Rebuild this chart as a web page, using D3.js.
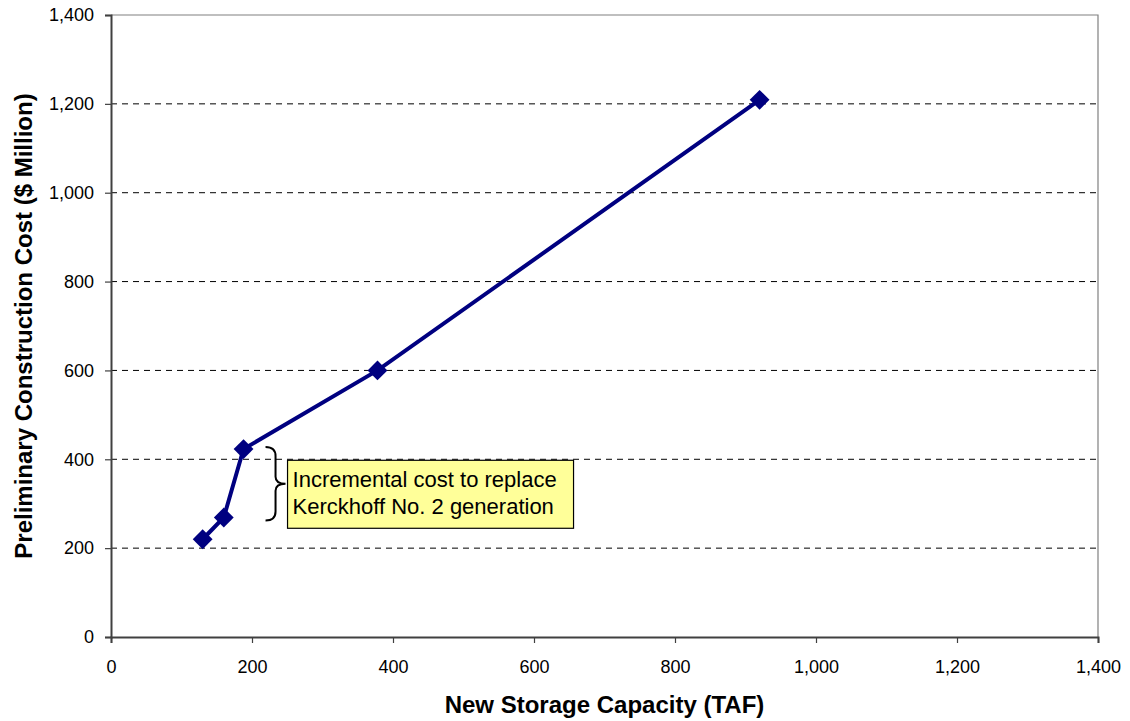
<!DOCTYPE html>
<meta charset="utf-8">
<style>
body { margin: 0; background: #fff; font-family: 'Liberation Sans', Arial, sans-serif; }
.tick text { font-size: 18px; fill: #000; font-family: 'Liberation Sans', Arial, sans-serif; }
.grid line { stroke: #000; stroke-dasharray: 6,5; stroke-width: 1; }
.title { font-size: 24px; font-weight: bold; }
</style>
<body>
<script src="https://d3js.org/d3.v7.min.js"></script>
<script>
var width = 1130,
    height = 721;

var margin = {top: 15, right: 32, bottom: 84, left: 111};

var storage = [130, 160, 188, 378, 920];
var cost = [220, 269, 423, 600, 1209];
var xTicks = [0, 200, 400, 600, 800, 1000, 1200, 1400];
var yTicks = [0, 200, 400, 600, 800, 1000, 1200, 1400];
var noteLines = ["Incremental cost to replace", "Kerckhoff No. 2 generation"];

var data = storage.map((d, i) => ({x: d, y: cost[i]}));

var svg = d3.select("body").append("svg")
    .attr("width", width)
    .attr("height", height);

var x = d3.scaleLinear().domain([0, 1400]).range([margin.left, width - margin.right]);
var y = d3.scaleLinear().domain([0, 1400]).range([height - margin.bottom, margin.top]);

var fmt = d3.format(",");

// gridlines (dashed), skip 0 and top
svg.append("g")
    .attr("class", "grid")
  .selectAll("line")
  .data(yTicks.filter(d => d > 0 && d < 1400))
  .join("line")
    .attr("x1", x(0))
    .attr("x2", x(1400))
    .attr("y1", d => y(d))
    .attr("y2", d => y(d));

// plot border top / right in grey
svg.append("path")
    .attr("d", `M${x(0)},${y(1400)}H${x(1400)}V${y(0)}`)
    .attr("fill", "none")
    .attr("stroke", "#808080")
    .attr("stroke-width", 1.2);

var xAxis = svg.append("g")
    .attr("transform", `translate(0,${y(0)})`)
    .call(d3.axisBottom(x).tickValues(xTicks).tickFormat(fmt).tickSize(6).tickPadding(17));

var yAxis = svg.append("g")
    .attr("transform", `translate(${x(0)},0)`)
    .call(d3.axisLeft(y).tickValues(yTicks).tickFormat(fmt).tickSize(6).tickPadding(11));

[xAxis, yAxis].forEach(g => {
  g.select(".domain").attr("stroke", "#404040").attr("stroke-width", 2);
  g.selectAll(".tick line").attr("stroke", "#404040").attr("stroke-width", 1.2);
});

// axis titles
svg.append("text")
    .attr("class", "title")
    .attr("x", (x(0) + x(1400)) / 2)
    .attr("y", 713)
    .attr("text-anchor", "middle")
    .text("New Storage Capacity (TAF)");

svg.append("text")
    .attr("class", "title")
    .attr("transform", `translate(32,${(y(0) + y(1400)) / 2}) rotate(-90)`)
    .attr("text-anchor", "middle")
    .text("Preliminary Construction Cost ($ Million)");

// series
var line = d3.line().x(d => x(d.x)).y(d => y(d.y));

svg.append("path")
    .datum(data)
    .attr("d", line)
    .attr("fill", "none")
    .attr("stroke", "#000080")
    .attr("stroke-width", 4);

svg.append("g")
  .selectAll("path")
  .data(data)
  .join("path")
    .attr("transform", d => `translate(${x(d.x)},${y(d.y)})`)
    .attr("d", d3.symbol(d3.symbolDiamond2, 250))
    .attr("fill", "#000080");

// brace between the two upper points
var b0 = y(cost[2]) - 2, b1 = y(cost[1]) + 3, bx = x(storage[2]) + 22;
var bm = (b0 + b1) / 2;
svg.append("path")
    .attr("d", `M${bx},${b0} Q${bx + 10},${b0} ${bx + 10},${b0 + 9} V${bm - 7} Q${bx + 10},${bm} ${bx + 20},${bm}` +
               ` Q${bx + 10},${bm} ${bx + 10},${bm + 7} V${b1 - 9} Q${bx + 10},${b1} ${bx},${b1}`)
    .attr("fill", "none")
    .attr("stroke", "#000")
    .attr("stroke-width", 2);

// note box
var box = svg.append("g").attr("transform", `translate(${bx + 22},${y(400) + 1})`);
box.append("rect")
    .attr("width", 286)
    .attr("height", 68)
    .attr("fill", "#FFFF99")
    .attr("stroke", "#000")
    .attr("stroke-width", 1.2);
box.selectAll("text")
  .data(noteLines)
  .join("text")
    .attr("x", 5)
    .attr("y", (d, i) => 27 + i * 27)
    .attr("font-size", "22px")
    .text(d => d);
</script>
</body>
